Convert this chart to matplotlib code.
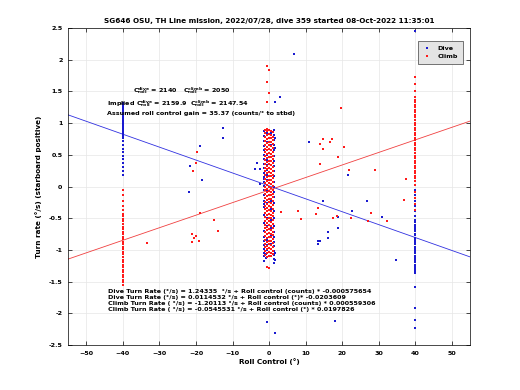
import numpy as np
import matplotlib
matplotlib.use('Agg')
import matplotlib.pyplot as plt

title = 'SG646 OSU, TH Line mission, 2022/07/28, dive 359 started 08-Oct-2022 11:35:01'

# fit coefficients (degrees): intercept, slope
dive_fit = [0.0114532, -0.0203609]
climb_fit = [-0.0545531, 0.0197826]

# dive points at roll -40 and +40
dive_m40 = [1.32, 1.30, 1.28, 1.26, 1.24, 1.22, 1.20, 1.18, 1.16, 1.14, 1.12, 1.10, 1.08,
            1.06, 1.04, 1.02, 1.00, 0.98, 0.96, 0.94, 0.92, 0.90, 0.88, 0.86, 0.84, 0.82,
            0.80, 0.78, 0.76, 0.72, 0.66, 0.60, 0.55, 0.49, 0.43, 0.37, 0.31, 0.25, 0.19]
dive_p40 = [2.45, -0.05, -0.13, -0.22, -0.30, -0.38, -0.46, -0.53, -0.56, -0.60, -0.63,
            -0.67, -0.70, -0.74, -0.77, -0.81, -0.84, -0.88, -0.91, -0.95, -0.98, -1.02,
            -1.05, -1.09, -1.12, -1.16, -1.19, -1.23, -1.26, -1.30, -1.33, -1.36, -1.58,
            -1.92, -2.10, -2.23]
# climb points at roll -40 and +40
climb_m40 = [-0.06, -0.14, -0.22, -0.30, -0.37, -0.43, -0.47, -0.51, -0.55, -0.59, -0.63,
             -0.67, -0.71, -0.75, -0.79, -0.83, -0.87, -0.91, -0.95, -0.99, -1.03, -1.07,
             -1.11, -1.15, -1.19, -1.23, -1.27, -1.31, -1.35, -1.39, -1.43, -1.47, -1.51,
             -1.55]
climb_p40 = [1.73, 1.62, 1.50, 1.41, 1.37, 1.33, 1.29, 1.25, 1.21, 1.17, 1.13, 1.09, 1.05,
             1.01, 0.97, 0.93, 0.89, 0.85, 0.81, 0.77, 0.73, 0.69, 0.65, 0.61, 0.57, 0.53,
             0.49, 0.45, 0.41, 0.37, 0.33, 0.29, 0.25, 0.21, 0.17, 0.13, 0.09, 0.02, -0.08,
             -0.18, -0.28, -0.37]

# points near zero roll, split into sub-columns
dive_zero_rolls = [-1.3, -0.6, 0.6, 1.3]
dive_zero_a = [0.88, 0.80, 0.72, 0.64, 0.57, 0.50, 0.43, 0.36, 0.29, 0.22, 0.15, 0.08,
               0.01, -0.06, -0.14, -0.22, -0.32, -0.45, -0.58, -0.70, -0.80, -0.86, -0.92,
               -0.98, -1.04, -1.10, -1.17]
dive_zero_b = [0.84, 0.70, 0.58, 0.50, 0.42, 0.34, 0.26, 0.18, 0.10, 0.02, -0.06, -0.15,
               -0.26, -0.38, -0.50, -0.62, -0.74, -0.84, -0.92, -1.00]
dive_zero_c = [0.85, 0.66, 0.52, 0.40, 0.28, 0.16, 0.04, -0.08, -0.22, -0.36, -0.52,
               -0.66, -0.78, -0.90, -1.05]
dive_zero_d = [0.90, 0.82, 0.74, 0.66, 0.57, 0.48, 0.40, 0.32, 0.24, 0.16, 0.08, 0.00,
               -0.08, -0.16, -0.26, -0.38, -0.50, -0.62, -0.72, -0.80, -0.87, -0.94,
               -1.01, -1.08, -1.14, -1.20]
climb_zero_rolls = [-1.0, -0.5, 0.0, 0.5, 1.0]
climb_zero_a = [0.90, 0.84, 0.78, 0.72, 0.66, 0.60, 0.54, 0.48, 0.42, 0.36, 0.30, 0.24,
                0.18, 0.12, 0.06, 0.00, -0.06, -0.12, -0.18, -0.24, -0.30, -0.36, -0.42,
                -0.48, -0.54, -0.60, -0.66, -0.72, -0.78, -0.84, -0.90, -0.96, -1.02,
                -1.08]
climb_zero_b = [1.90, 1.65, 1.33, 0.91, 0.87, 0.81, 0.75, 0.69, 0.63, 0.57, 0.51, 0.45,
                0.39, 0.33, 0.27, 0.21, 0.15, 0.09, 0.03, -0.03, -0.09, -0.15, -0.21,
                -0.27, -0.33, -0.39, -0.45, -0.51, -0.57, -0.63, -0.69, -0.75, -0.81,
                -0.87, -0.93, -0.99, -1.05, -1.11, -1.27]
climb_zero_c = [1.84, 1.47, 0.89, 0.83, 0.77, 0.71, 0.65, 0.59, 0.53, 0.47, 0.41, 0.35,
                0.29, 0.23, 0.17, 0.11, 0.05, -0.01, -0.07, -0.13, -0.19, -0.25, -0.31,
                -0.37, -0.43, -0.49, -0.55, -0.61, -0.67, -0.73, -0.79, -0.85, -0.91,
                -0.97, -1.03, -1.09, -1.29]
climb_zero_d = [0.88, 0.82, 0.76, 0.70, 0.64, 0.58, 0.52, 0.46, 0.40, 0.34, 0.28, 0.22,
                0.16, 0.10, 0.04, -0.02, -0.08, -0.14, -0.20, -0.26, -0.32, -0.38, -0.44,
                -0.50, -0.56, -0.62, -0.68, -0.74, -0.80, -0.86, -0.92, -0.98, -1.04,
                -1.10]
climb_zero_e = [0.86, 0.79, 0.73, 0.67, 0.61, 0.55, 0.49, 0.43, 0.37, 0.31, 0.25, 0.19,
                0.13, 0.07, 0.01, -0.05, -0.11, -0.17, -0.23, -0.29, -0.35, -0.41, -0.47,
                -0.53, -0.59, -0.65, -0.71, -0.77, -0.83, -0.89, -0.95, -1.01, -1.07]

# scattered points
dive_out_roll = [-12.7, -12.7, -18.9, -21.6, -18.4, -21.8, -3.4, -3.8, -2.5, -1.5, -2.6,
                 -1.4, 6.9, 3.0, 1.5, 1.5, 1.5, 10.8, 21.5, 14.7, 26.7, 22.6, 30.8, 18.9,
                 18.8, 16.2, 16.0, 13.3, 13.9, 13.5, 34.7, 1.5, 1.5, 18.0, 1.5, -0.6, -0.6,
                 -0.8, -0.8]
dive_out_rate = [0.93, 0.77, 0.64, 0.33, 0.10, -0.09, 0.38, 0.28, 0.28, 0.12, 0.04, -0.28,
                 2.09, 1.42, 1.34, 0.77, 0.61, 0.71, 0.19, -0.23, -0.23, -0.38, -0.48,
                 -0.48, -0.66, -0.72, -0.81, -0.86, -0.86, -0.91, -1.16, -1.04, -1.16,
                 -2.12, -2.31, -2.13, -0.87, -1.07, -1.12]
climb_out_roll = [-19.8, -20.1, -20.7, -19.0, -15.0, -14.0, -33.4, -21.0, -20.1, -20.5,
                  -21.0, -19.1, 19.7, 14.8, 17.1, 16.8, 13.9, 14.8, 20.5, 18.9, 13.9, 21.8,
                  29.0, 3.3, 8.0, 8.7, 12.8, 13.3, 27.9, 32.2, 17.6, 18.5, 22.4, 27.2,
                  37.4, 36.9]
climb_out_rate = [0.55, 0.37, 0.25, -0.41, -0.52, -0.70, -0.89, -0.74, -0.78, -0.81, -0.87,
                  -0.86, 1.24, 0.75, 0.75, 0.70, 0.67, 0.59, 0.62, 0.47, 0.35, 0.26, 0.26,
                  -0.40, -0.39, -0.51, -0.43, -0.33, -0.42, -0.55, -0.49, -0.47, -0.49,
                  -0.54, 0.12, -0.21]

blue = '#1a1ad0'
red = '#ff1a1a'
fs = 4.6

def gather(cols, zero_rolls, zeros, out_roll, out_rate):
    xs, ys = [], []
    for roll, rates in cols:
        xs += [roll] * len(rates)
        ys += rates
    for roll, rates in zip(zero_rolls, zeros):
        xs += [roll] * len(rates)
        ys += rates
    return xs + out_roll, ys + out_rate

dx, dy = gather([(-40, dive_m40), (40, dive_p40)], dive_zero_rolls,
                [dive_zero_a, dive_zero_b, dive_zero_c, dive_zero_d],
                dive_out_roll, dive_out_rate)
cx, cy = gather([(-40, climb_m40), (40, climb_p40)], climb_zero_rolls,
                [climb_zero_a, climb_zero_b, climb_zero_c, climb_zero_d, climb_zero_e],
                climb_out_roll, climb_out_rate)

fig = plt.figure(figsize=(5.2, 3.9), dpi=100)
ax = fig.add_axes([0.131, 0.115, 0.773, 0.813])

ax.plot(dx, dy, 's', color=blue, ms=1.5, mew=0, label='Dive', zorder=3)
ax.plot(cx, cy, 's', color=red, ms=1.5, mew=0, label='Climb', zorder=4)

xl = np.array([-55, 55])
ax.plot(xl, dive_fit[0] + dive_fit[1] * xl, color='#3030e0', lw=0.6, zorder=2)
ax.plot(xl, climb_fit[0] + climb_fit[1] * xl, color='#f04040', lw=0.6, zorder=2)

ax.set_xlim(-55, 55)
ax.set_ylim(-2.5, 2.5)
ax.set_xticks(np.arange(-50, 51, 10))
ax.set_yticks(np.arange(-2.5, 2.51, 0.5))
ax.set_yticklabels(['-2.5', '-2', '-1.5', '-1', '-0.5', '0', '0.5', '1', '1.5', '2', '2.5'])
ax.grid(True, color='#e6e6e6', lw=0.5)
ax.set_axisbelow(True)
ax.tick_params(direction='in', length=3, width=0.5, labelsize=fs, top=True, right=True,
               pad=4)
for lab in ax.get_xticklabels() + ax.get_yticklabels():
    lab.set_fontweight('bold')
for s in ax.spines.values():
    s.set_linewidth(0.5)

ax.set_title(title, fontsize=5.2, fontweight='bold', pad=4)
ax.set_xlabel('Roll Control (°)', fontsize=5.2, fontweight='bold', labelpad=2)
ax.set_ylabel('Turn rate (°/s) (starboard positive)', fontsize=5.2, fontweight='bold',
              labelpad=5)

tkw = dict(fontsize=fs, fontweight='bold', transform=ax.transData, va='center')
ax.text(-37.3, 1.52, r'$\mathbf{C_{roll}^{dive}}$ = 2140', **tkw)
ax.text(-23.6, 1.52, r'$\mathbf{C_{roll}^{climb}}$ = 2050', **tkw)
ax.text(-44.3, 1.31, r'Implied $\mathbf{C_{roll}^{dive}}$ = 2159.9', **tkw)
ax.text(-21.7, 1.31, r'$\mathbf{C_{roll}^{climb}}$ = 2147.54', **tkw)
ax.text(-44.3, 1.16, 'Assumed roll control gain = 35.37 (counts/° to stbd)', **tkw)

eq_lines = ['Dive Turn Rate (°/s) = 1.24335  °/s + Roll control (counts) * -0.000575654',
            'Dive Turn Rate (°/s) = 0.0114532 °/s + Roll control (°)* -0.0203609',
            'Climb Turn Rate ( °/s) = -1.20113 °/s + Roll control (counts) * 0.000559306',
            'Climb Turn Rate ( °/s) = -0.0545531 °/s + Roll control (°) * 0.0197826']
for i, line in enumerate(eq_lines):
    ax.text(-44.0, -1.65 - 0.097 * i, line, **tkw)

leg = ax.legend(loc='upper right', fontsize=fs, markerscale=1.2, handlelength=1.5,
                borderpad=0.8, labelspacing=0.3, fancybox=False,
                bbox_to_anchor=(0.99, 0.97))
leg.get_frame().set_facecolor('#e4e4e4')
leg.get_frame().set_edgecolor('#404040')
leg.get_frame().set_linewidth(0.5)
leg.get_frame().set_alpha(1)
for t in leg.get_texts():
    t.set_fontweight('bold')

fig.savefig('out.png', dpi=100)
